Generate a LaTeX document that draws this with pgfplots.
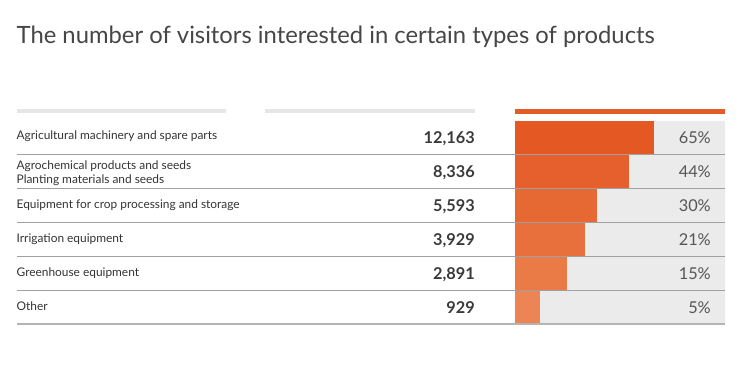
\documentclass[border=0pt]{standalone}
\usepackage{pgfplots}
\pgfplotsset{compat=1.18}
\usepackage{fontspec}
\setmainfont{Lato}
\definecolor{titlec}{HTML}{464646}
\definecolor{labc}{HTML}{333333}
\definecolor{valc}{HTML}{3A3A3A}
\definecolor{pctc}{HTML}{555555}
\definecolor{bgc}{HTML}{EBEBEB}
\definecolor{hdrg}{HTML}{E6E6E6}
\definecolor{hdro}{HTML}{E35B25}
\definecolor{sepc}{HTML}{A0A0A0}
\definecolor{sepb}{HTML}{B4B4B4}
\definecolor{o1}{HTML}{E45824}
\definecolor{o2}{HTML}{E5602D}
\definecolor{o3}{HTML}{E66933}
\definecolor{o4}{HTML}{E8703C}
\definecolor{o5}{HTML}{EA7B47}
\definecolor{o6}{HTML}{EC8553}
\begin{document}
\begin{tikzpicture}[
  lab/.style={anchor=base west, inner sep=0pt, text=labc, font=\fontsize{11.9}{14}\selectfont},
  val/.style={anchor=base east, inner sep=0pt, text=valc, font=\fontsize{16.3}{19}\selectfont\bfseries},
  pct/.style={anchor=base east, inner sep=0pt, text=pctc, font=\fontsize{16.3}{19}\selectfont},
]
\path[use as bounding box] (0pt,0pt) rectangle (750pt,-379pt);
\node[anchor=base west, inner sep=0pt, text=titlec, font=\fontsize{23.8}{28}\selectfont] at (16.5pt,-43.5pt) {The number of visitors interested in certain types of products};
\begin{axis}[
  at={(515pt,-324pt)}, anchor=south west,
  width=210pt, height=203pt, scale only axis,
  hide axis, clip=false,
  xmin=0, xmax=100, ymin=0.5, ymax=6.5, y dir=reverse,
]
% grey backgrounds (full bar area)
\addplot[xbar, bar width=1, bar shift=0, fill=bgc, draw=none] coordinates {(100,1) (100,2) (100,3) (100,4) (100,5) (100,6)};
% orange bars (length as share of the bar area)
\addplot[xbar, bar width=1, bar shift=0, fill=o1, draw=none] coordinates {(66.2,1)};
\addplot[xbar, bar width=1, bar shift=0, fill=o2, draw=none] coordinates {(54.3,2)};
\addplot[xbar, bar width=1, bar shift=0, fill=o3, draw=none] coordinates {(39.0,3)};
\addplot[xbar, bar width=1, bar shift=0, fill=o4, draw=none] coordinates {(33.3,4)};
\addplot[xbar, bar width=1, bar shift=0, fill=o5, draw=none] coordinates {(24.8,5)};
\addplot[xbar, bar width=1, bar shift=0, fill=o6, draw=none] coordinates {(11.9,6)};
% header bars
\fill[hdrg] (axis cs:-237.14,0.1453) rectangle (axis cs:-137.62,0.2635);
\fill[hdrg] (axis cs:-119.05,0.1453) rectangle (axis cs:-19.05,0.2635);
\fill[hdro] (axis cs:0,0.1453) rectangle (axis cs:100,0.2931);
% separators
\draw[sepc, line width=1pt] (axis cs:-237.14,1.5) -- (axis cs:100,1.5);
\draw[sepc, line width=1pt] (axis cs:-237.14,2.5) -- (axis cs:100,2.5);
\draw[sepc, line width=1pt] (axis cs:-237.14,3.5) -- (axis cs:100,3.5);
\draw[sepc, line width=1pt] (axis cs:-237.14,4.5) -- (axis cs:100,4.5);
\draw[sepc, line width=1pt] (axis cs:-237.14,5.5) -- (axis cs:100,5.5);
\draw[sepb, line width=2pt] (axis cs:-237.14,6.5) -- (axis cs:100,6.5);
% category labels
\node[lab] at (axis cs:-237.4,1.05) {Agricultural machinery and spare parts};
\node[lab] at (axis cs:-237.4,1.919) {Agrochemical products and seeds};
\node[lab] at (axis cs:-237.4,2.341) {Planting materials and seeds};
\node[lab] at (axis cs:-237.4,3.08) {Equipment for crop processing and storage};
\node[lab] at (axis cs:-237.4,4.09) {Irrigation equipment};
\node[lab] at (axis cs:-237.4,5.09) {Greenhouse equipment};
\node[lab] at (axis cs:-237.4,6.09) {Other};
% visitor counts
\node[val] at (axis cs:-19.05,1.177) {12,163};
\node[val] at (axis cs:-19.05,2.177) {8,336};
\node[val] at (axis cs:-19.05,3.177) {5,593};
\node[val] at (axis cs:-19.05,4.177) {3,929};
\node[val] at (axis cs:-19.05,5.177) {2,891};
\node[val] at (axis cs:-19.05,6.177) {929};
% shares
\node[pct] at (axis cs:93.33,1.177) {65\%};
\node[pct] at (axis cs:93.33,2.177) {44\%};
\node[pct] at (axis cs:93.33,3.177) {30\%};
\node[pct] at (axis cs:93.33,4.177) {21\%};
\node[pct] at (axis cs:93.33,5.177) {15\%};
\node[pct] at (axis cs:93.33,6.177) {5\%};
\end{axis}
\end{tikzpicture}
\end{document}
